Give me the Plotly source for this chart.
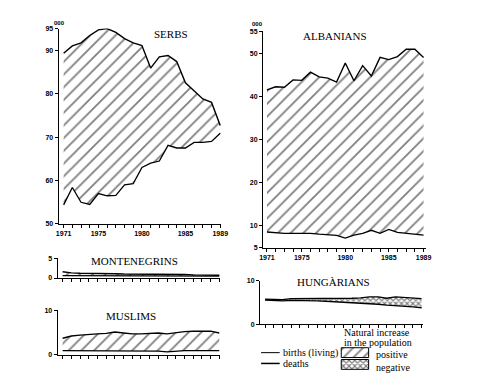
import plotly.graph_objects as go

W, H = 490, 391
years = list(range(1971, 1990))

serbs_births = [89.3, 91.0, 91.7, 93.4, 94.7, 95.0, 94.1, 92.7, 91.7, 91.1, 85.9, 88.5, 88.8, 87.4, 82.5, 80.6, 78.8, 78.0, 72.7]
serbs_deaths = [54.4, 58.4, 55.0, 54.5, 57.0, 56.5, 56.6, 59.0, 59.3, 63.0, 64.0, 64.5, 68.1, 67.5, 67.5, 68.8, 68.8, 69.0, 70.9]

alb_births = [41.5, 42.2, 42.1, 43.8, 43.7, 45.6, 44.5, 44.2, 43.3, 47.7, 43.6, 47.1, 44.7, 49.0, 48.5, 49.2, 50.9, 50.9, 49.0]
alb_deaths = [8.6, 8.4, 8.3, 8.3, 8.3, 8.3, 8.1, 8.0, 7.8, 7.2, 7.9, 8.3, 9.0, 8.3, 9.2, 8.5, 8.3, 8.1, 7.9]

mont_births = [1.6, 1.3, 1.2, 1.2, 1.2, 1.1, 1.1, 1.0, 1.0, 0.9, 0.9, 0.9, 0.9, 0.9, 0.9, 0.8, 0.8, 0.8, 0.7]
mont_deaths = [0.6, 0.6, 0.6, 0.6, 0.6, 0.6, 0.6, 0.6, 0.6, 0.6, 0.6, 0.6, 0.6, 0.6, 0.6, 0.6, 0.5, 0.5, 0.5]

musl_births = [3.7, 4.2, 4.4, 4.6, 4.7, 4.8, 5.1, 4.9, 4.7, 4.7, 4.8, 4.9, 4.7, 5.0, 5.2, 5.3, 5.3, 5.3, 4.9]
musl_deaths = [0.9, 0.9, 0.9, 0.9, 0.9, 0.9, 0.9, 0.9, 0.9, 0.9, 0.9, 0.8, 0.6, 0.8, 0.9, 0.9, 0.9, 0.9, 0.9]

hun_births = [5.6, 5.5, 5.4, 5.5, 5.5, 5.5, 5.4, 5.3, 5.2, 5.1, 5.0, 4.9, 4.7, 4.6, 4.4, 4.3, 4.2, 4.0, 3.8]
hun_deaths = [5.8, 5.7, 5.7, 5.9, 5.9, 5.9, 5.9, 5.9, 5.9, 6.0, 6.0, 6.1, 6.3, 6.3, 6.0, 6.3, 6.2, 6.0, 5.9]

year_labels = {1971: "1971", 1975: "1975", 1980: "1980", 1985: "1985", 1989: "1989"}

def fx(px):
    return px / W

def fy(py):
    return 1 - py / H

INK = "#000000"
TICKFONT = dict(family="Liberation Sans", size=7, color=INK, weight="bold")

fig = go.Figure()

panels = [
    (serbs_births, serbs_deaths, 56, 222, 25, 224, [50, 95], [50, 60, 70, 80, 90, 95], True, "/"),
    (alb_births, alb_deaths, 265, 432, 28, 248, [5, 55], [5, 10, 20, 30, 40, 50, 55], True, "/"),
    (mont_births, mont_deaths, 55, 221, 259, 279, [0, 5], [0, 5], False, "/"),
    (musl_births, musl_deaths, 55, 221, 312, 357, [0, 10], [0, 10], False, "/"),
    (hun_births, hun_deaths, 262, 429, 282, 326, [0, 10], [0, 10], False, "x"),
]

px_per_year = 8.9
for i, (b, d, xl, xr, yt, yb, yr, yt_vals, showlab, pat) in enumerate(panels, start=1):
    xa = "x" if i == 1 else f"x{i}"
    ya = "y" if i == 1 else f"y{i}"
    x0 = 1971 - (5 if i != 2 else 4) / px_per_year
    x1 = x0 + (xr - xl) / px_per_year
    fig.add_trace(go.Scatter(x=years, y=d, mode="lines", line=dict(color=INK, width=1.3),
                             xaxis=xa, yaxis=ya, showlegend=False, hoverinfo="skip"))
    if pat == "/":
        fp = dict(shape="/", size=9, solidity=0.2, fgcolor=INK, bgcolor="white")
    else:
        fp = dict(shape="x", size=4, solidity=0.5, fgcolor=INK, bgcolor="white")
    fig.add_trace(go.Scatter(x=years, y=b, mode="lines", line=dict(color=INK, width=1.4),
                             fill="tonexty", fillcolor="white", fillpattern=fp,
                             xaxis=xa, yaxis=ya, showlegend=False, hoverinfo="skip"))
    xkey = "xaxis" if i == 1 else f"xaxis{i}"
    ykey = "yaxis" if i == 1 else f"yaxis{i}"
    fig.update_layout(**{
        xkey: dict(domain=[fx(xl), fx(xr)], anchor=ya, range=[x0, x1],
                   tickvals=years,
                   ticktext=[year_labels.get(y, "") if showlab else "" for y in years],
                   ticks="outside", ticklen=3, tickwidth=1, tickcolor=INK,
                   showline=True, linecolor=INK, linewidth=1.2, showgrid=False,
                   zeroline=False, tickfont=TICKFONT, tickangle=0, fixedrange=True),
        ykey: dict(domain=[fy(yb), fy(yt)], anchor=xa, range=yr,
                   tickvals=yt_vals, ticks="outside", ticklen=3, tickwidth=1, tickcolor=INK,
                   showline=True, linecolor=INK, linewidth=1.2, showgrid=False,
                   zeroline=False, tickfont=TICKFONT, fixedrange=True),
    })

fig.update_layout(
    xaxis6=dict(domain=[0, 1], range=[0, W], visible=False, anchor="y6", fixedrange=True),
    yaxis6=dict(domain=[0, 1], range=[H, 0], visible=False, anchor="x6", fixedrange=True),
)
fig.add_trace(go.Scatter(x=[345, 373, 373, 345, 345], y=[350, 350, 360, 360, 350], mode="lines",
                         line=dict(color=INK, width=1), fill="toself", fillcolor="white",
                         fillpattern=dict(shape="/", size=7, solidity=0.25, fgcolor=INK, bgcolor="white"),
                         xaxis="x6", yaxis="y6", showlegend=False, hoverinfo="skip"))
fig.add_trace(go.Scatter(x=[345, 373, 373, 345, 345], y=[362, 362, 372, 372, 362], mode="lines",
                         line=dict(color=INK, width=1), fill="toself", fillcolor="white",
                         fillpattern=dict(shape="x", size=4, solidity=0.5, fgcolor=INK, bgcolor="white"),
                         xaxis="x6", yaxis="y6", showlegend=False, hoverinfo="skip"))

shapes = [
    dict(type="line", xref="paper", yref="paper", x0=fx(263), x1=fx(282), y0=fy(355), y1=fy(355),
         line=dict(color=INK, width=1)),
    dict(type="line", xref="paper", yref="paper", x0=fx(263), x1=fx(282), y0=fy(366), y1=fy(366),
         line=dict(color=INK, width=1.5)),
]

SERIF = "Liberation Serif"
def txt(s, x, y, size=10.5, anchor="center"):
    return dict(text=s, x=fx(x), y=fy(y), xref="paper", yref="paper", showarrow=False,
                xanchor=anchor, yanchor="middle", font=dict(family=SERIF, size=size, color=INK))

annotations = [
    txt("SERBS", 171, 31, 11),
    txt("ALBANIANS", 339, 33, 11),
    txt("MONTENEGRINS", 133, 262, 11),
    txt("MUSLIMS", 130, 318, 11),
    txt("HUNGÀRIANS", 337, 283, 11),
    txt("Natural increase", 346, 334, 10, "left"),
    txt("in the population", 346, 345, 10, "left"),
    txt("births (living)", 283, 355, 10, "left"),
    txt("deaths", 283, 366, 10, "left"),
    txt("positive", 378, 357, 10, "left"),
    txt("negative", 378, 370, 10, "left"),
    dict(text="000", x=fx(57), y=fy(19), xref="paper", yref="paper", showarrow=False,
         xanchor="center", yanchor="middle", font=dict(family="Liberation Sans", size=6, color=INK, weight="bold")),
    dict(text="000", x=fx(259), y=fy(20), xref="paper", yref="paper", showarrow=False,
         xanchor="center", yanchor="middle", font=dict(family="Liberation Sans", size=6, color=INK, weight="bold")),
]

fig.update_layout(width=W, height=H, margin=dict(l=0, r=0, t=0, b=0),
                  paper_bgcolor="white", plot_bgcolor="rgba(0,0,0,0)",
                  shapes=shapes, annotations=annotations, showlegend=False)

fig.write_html("out.html", config={"displayModeBar": False},
               post_script="document.body.style.margin='0px';")
